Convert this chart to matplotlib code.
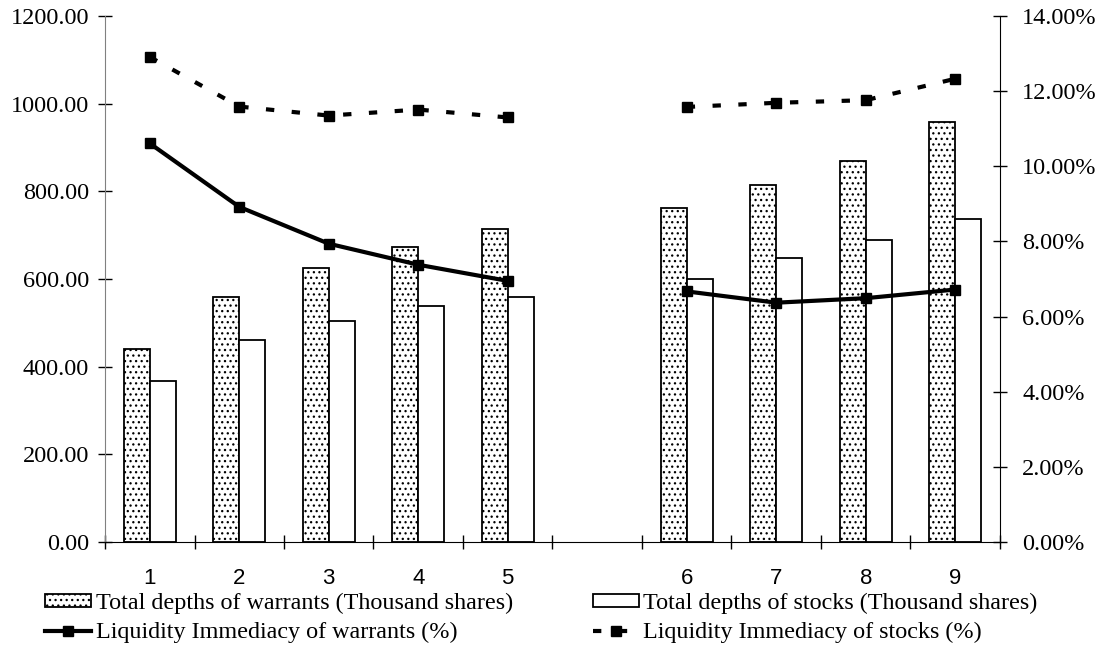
import numpy as np
import matplotlib
matplotlib.use("Agg")
import matplotlib.pyplot as plt
from matplotlib.ticker import FuncFormatter, FixedLocator

# data
categories = ["1", "2", "3", "4", "5", "6", "7", "8", "9"]
depth_warrants = [440, 558, 626, 672, 713, 762, 814, 870, 959]
depth_stocks = [368, 460, 505, 538, 560, 600, 649, 688, 737]
liq_warrants = [10.61, 8.92, 7.94, 7.38, 6.95, 6.67, 6.37, 6.49, 6.72]
liq_stocks = [12.91, 11.59, 11.35, 11.51, 11.30, 11.58, 11.69, 11.76, 12.33]

# one empty slot between 5 and 6
pos = np.array([0, 1, 2, 3, 4, 6, 7, 8, 9])
w = 0.29

serif = ["Liberation Serif", "DejaVu Serif"]
sans = ["Liberation Sans", "DejaVu Sans"]
plt.rcParams["hatch.linewidth"] = 0.9
plt.rcParams["hatch.color"] = "#3a3a3a"

fig = plt.figure(figsize=(11.03, 6.51), dpi=100)
ax = fig.add_axes([0.0952, 0.1674, 0.9066 - 0.0952, 0.9754 - 0.1674])
ax2 = ax.twinx()

b1 = ax.bar(pos - w / 2, depth_warrants, w, facecolor="white", edgecolor="black",
            linewidth=1.3, hatch="...", label="Total depths of warrants (Thousand shares)")
b2 = ax.bar(pos + w / 2, depth_stocks, w, facecolor="white", edgecolor="black",
            linewidth=1.3, label="Total depths of stocks (Thousand shares)")

a, b = slice(0, 5), slice(5, 9)
l1, = ax2.plot(pos[a], liq_warrants[a], "-", color="black", lw=3, marker="s", ms=7,
               label="Liquidity Immediacy of warrants (%)")
ax2.plot(pos[b], liq_warrants[b], "-", color="black", lw=3, marker="s", ms=7)
l2, = ax2.plot(pos[a], liq_stocks[a], color="black", lw=3, marker="s", ms=7,
               dashes=(2, 4.2), label="Liquidity Immediacy of stocks (%)")
ax2.plot(pos[b], liq_stocks[b], color="black", lw=3, marker="s", ms=7, dashes=(2, 4.2))

ax.set_xlim(-0.5, 9.5)
ax.set_ylim(0, 1200)
ax2.set_ylim(0, 14)
ax.set_yticks(np.arange(0, 1201, 200))
ax2.set_yticks(np.arange(0, 14.1, 2))
ax.yaxis.set_major_formatter(FuncFormatter(lambda v, p: "%.2f" % v))
ax2.yaxis.set_major_formatter(FuncFormatter(lambda v, p: "%.2f%%" % v))

ax.set_xticks(pos)
ax.set_xticklabels(categories, family=sans, fontsize=16)
ax.xaxis.set_minor_locator(FixedLocator(np.arange(-0.5, 10, 1)))
ax.tick_params(axis="x", which="major", length=0, pad=19)
ax.tick_params(axis="x", which="minor", direction="inout", length=10, width=1)
ax.tick_params(axis="y", direction="inout", length=10, width=1, labelsize=17.5, pad=6.5)
ax2.tick_params(axis="y", direction="inout", length=10, width=1, labelsize=17.5, pad=11)
for lab in ax.get_yticklabels() + ax2.get_yticklabels():
    lab.set_family(serif)

ax.spines["top"].set_visible(False)
ax2.spines["top"].set_visible(False)
ax2.spines["left"].set_visible(False)
ax2.spines["bottom"].set_visible(False)
ax.spines["right"].set_visible(False)
ax.spines["left"].set_color("#808080")

fig.legend(handles=[b1, l1, b2, l2], ncol=2, loc="upper left",
           bbox_to_anchor=(45 / 1103, 1 - 593 / 651), frameon=False,
           prop={"family": serif, "size": 17.4}, handlelength=1.9, handleheight=0.4,
           handletextpad=0.2, columnspacing=3.3, labelspacing=0.33,
           borderpad=0, borderaxespad=0)

fig.savefig("out.png", dpi=100)
